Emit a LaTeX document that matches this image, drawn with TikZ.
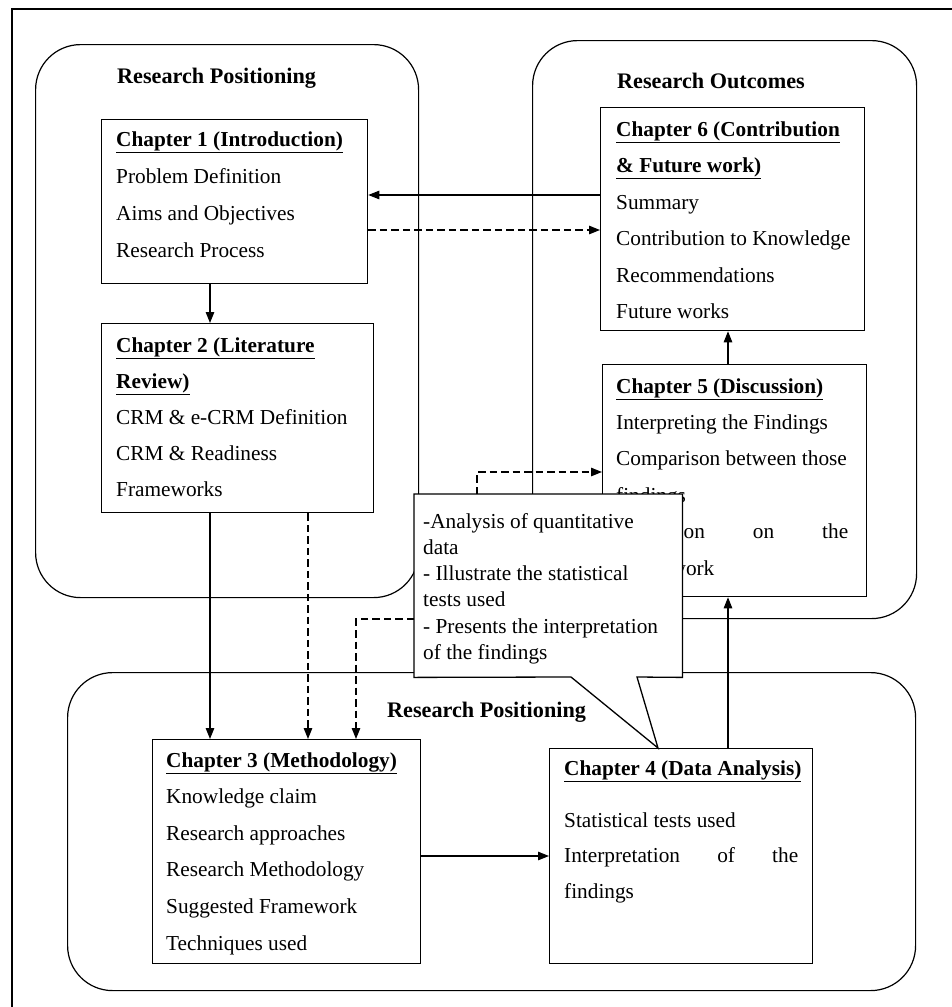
\documentclass[tikz,border=0pt]{standalone}
\usepackage{fontspec}
\setmainfont{Liberation Serif}
\usetikzlibrary{arrows.meta,calc}
% bold underlined chapter heading
\newcommand\hd[1]{\underline{\textbf{#1}}}
% lines of a chapter box: name prefix, x, first baseline, line step, list of lines
\newcommand\chlines[5]{%
  \foreach \lineitem [count=\k from 0] in {#5} {%
    \node[txt, name=#1-\k] at (#2, {#3+\k*#4}) {\lineitem};}}
\begin{document}
\begin{tikzpicture}[x=1pt,y=-1pt,
  frame/.style={line width=1.3pt},
  group/.style={draw, line width=1.2pt, rounded corners=45pt, anchor=north west, inner sep=0pt},
  chap/.style={draw, fill=white, line width=1.3pt, anchor=north west, inner sep=0pt},
  txt/.style={anchor=base west, inner sep=0pt, font=\fontsize{21.3}{25}\selectfont},
  gtitle/.style={anchor=base west, inner sep=0pt, font=\fontsize{22.2}{25}\selectfont\bfseries},
  arr/.style={line width=1.2pt, -{Triangle[length=11pt,width=8.5pt]}},
  darr/.style={arr, dash pattern=on 7.5pt off 4pt},
]
\fill[white] (0,0) rectangle (952,1007);
\useasboundingbox (0,0) rectangle (952,1007);

% page frame
\draw[frame] (952,9) -- (12,9) -- (12,1007);

% groups
\node[group, minimum width=383, minimum height=553] (gpos) at (35,44) {};
\node[group, minimum width=384, minimum height=578] (gout) at (532,40) {};
\node[group, minimum width=848, minimum height=318] (gpos2) at (67,672) {};

\node[gtitle] (tpos) at (117,83) {Research Positioning};
\node[gtitle] (tout) at (617,88) {Research Outcomes};
\node[gtitle] (tpos2) at (387,717) {Research Positioning};

% chapter boxes
\node[chap, minimum width=266, minimum height=164] (ch1) at (101,119) {};
\node[chap, minimum width=272, minimum height=189] (ch2) at (101,323) {};
\node[chap, minimum width=268, minimum height=224] (ch3) at (152,739) {};
\node[chap, minimum width=263, minimum height=215] (ch4) at (549,748) {};
\node[chap, minimum width=264, minimum height=232] (ch5) at (602,364) {};
\node[chap, minimum width=264, minimum height=223] (ch6) at (600,107) {};

\chlines{c1}{116}{146}{37}{\hd{Chapter 1 (Introduction)}, Problem Definition, Aims and Objectives, Research Process}
\chlines{c2}{116}{352}{36}{\hd{Chapter 2 (Literature}, \hd{Review)}, CRM \& e-CRM Definition, CRM \& Readiness, Frameworks}
\chlines{c3}{166}{767}{36.6}{\hd{Chapter 3 (Methodology)}, Knowledge claim, Research approaches, Research Methodology, Suggested Framework, Techniques used}
\node[txt] (c4-0) at (564,775) {\hd{Chapter 4 (Data Analysis)}};
\chlines{c4}{564}{827}{35.5}{Statistical tests used, \makebox[234pt][s]{Interpretation of the}, findings}
\chlines{c5}{616}{393}{36.4}{\hd{Chapter 5 (Discussion)}, Interpreting the Findings, Comparison between those, findings, \makebox[232pt][s]{Reflection on the}, Framework}
\chlines{c6}{616}{136}{36.5}{\hd{Chapter 6 (Contribution}, \hd{\& Future work)}, Summary, Contribution to Knowledge, Recommendations, Future works}

% connector positions
\coordinate (xA) at (210,0);
\coordinate (xB) at (308,0);
\coordinate (xC) at (356,0);
\coordinate (xE) at (477,0);
\coordinate (xI) at (728,0);
\coordinate (yD) at (0,619);
\coordinate (yF) at (0,472);
\coordinate (yG) at (0,195);
\coordinate (yH) at (0,230);
\coordinate (yJ) at (0,856);

\draw[arr] (ch1.south -| xA) -- (ch2.north -| xA);
\draw[arr] (ch2.south -| xA) -- (ch3.north -| xA);
\draw[darr] (ch2.south -| xB) -- (ch3.north -| xB);
\draw[arr] (ch6.west |- yG) -- (ch1.east |- yG);
\draw[darr] (ch1.east |- yH) -- (ch6.west |- yH);
\draw[arr] (ch5.north -| xI) -- (ch6.south -| xI);
\draw[arr] (ch4.north -| xI) -- (ch5.south -| xI);
\draw[arr] (ch3.east |- yJ) -- (ch4.west |- yJ);

% callout on Chapter 4
\node[anchor=north west, minimum width=268, minimum height=183, inner sep=0pt] (co) at (414,494) {};
\coordinate (tip) at (658,748);
\coordinate (pl) at (571,677);
\coordinate (pr) at (637,677);
\draw[fill=white, line width=1.3pt] (co.north west) -- (co.north east) -- (co.south east)
  -- (pr) -- (tip) -- (pl) -- (co.south west) -- cycle;
\chlines{cot}{423}{528}{26.3}{-Analysis of quantitative, data, - Illustrate the statistical, tests used, - Presents the interpretation, of the findings}

\draw[darr] (co.north -| xE) |- (ch5.west |- yF);
\draw[darr] (co.west |- yD) -| (ch3.north -| xC);
\end{tikzpicture}
\end{document}
